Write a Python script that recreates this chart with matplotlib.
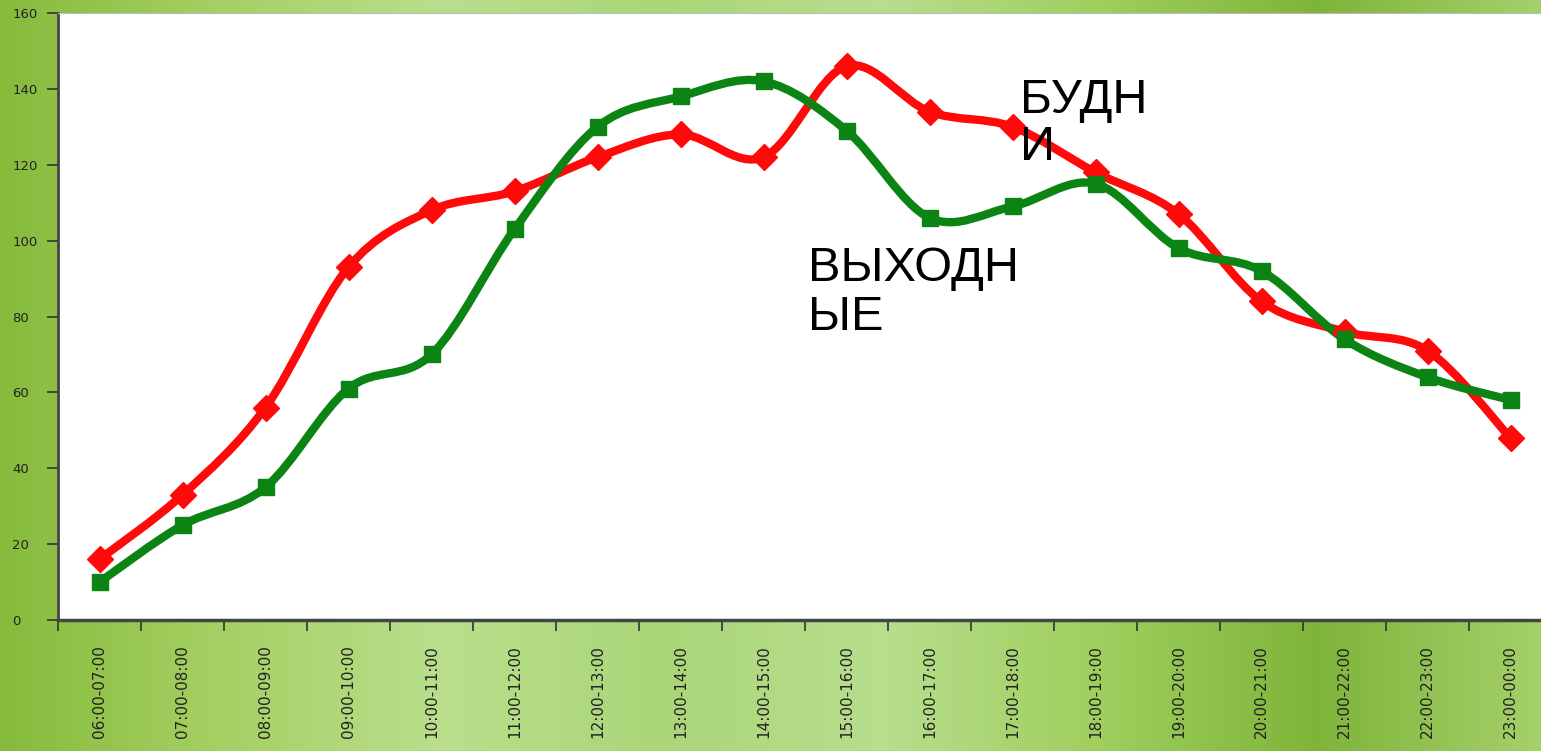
import numpy as np
import matplotlib
matplotlib.use("Agg")
import matplotlib.pyplot as plt
from matplotlib.path import Path
from matplotlib.patches import PathPatch
from matplotlib.colors import LinearSegmentedColormap

hours = ["06:00-07:00", "07:00-08:00", "08:00-09:00", "09:00-10:00",
         "10:00-11:00", "11:00-12:00", "12:00-13:00", "13:00-14:00",
         "14:00-15:00", "15:00-16:00", "16:00-17:00", "17:00-18:00",
         "18:00-19:00", "19:00-20:00", "20:00-21:00", "21:00-22:00",
         "22:00-23:00", "23:00-00:00"]
weekdays = [16, 33, 56, 93, 108, 113, 122, 128, 122, 146,
            134, 130, 118, 107, 84, 76, 71, 48]
weekend = [10, 25, 35, 61, 70, 103, 130, 138, 142, 129,
           106, 109, 115, 98, 92, 74, 64, 58]
yticks = [0, 20, 40, 60, 80, 100, 120, 140, 160]


def smooth_path(xs, ys):
    # cubic bezier through the points (catmull-rom style)
    pts = np.column_stack([xs, ys]).astype(float)
    verts = [pts[0]]
    codes = [Path.MOVETO]
    n = len(pts)
    for i in range(n - 1):
        p0 = pts[i - 1] if i > 0 else pts[i]
        p1 = pts[i]
        p2 = pts[i + 1]
        p3 = pts[i + 2] if i + 2 < n else pts[i + 1]
        verts += [p1 + (p2 - p0) / 6, p2 - (p3 - p1) / 6, p2]
        codes += [Path.CURVE4] * 3
    return Path(verts, codes)


fig = plt.figure(figsize=(15.41, 7.51), dpi=100)

# green background
bg = fig.add_axes([0, 0, 1, 1], zorder=-10)
cmap = LinearSegmentedColormap.from_list(
    "bg", ["#86bb3c", "#a6d064", "#b9df8c", "#aad678", "#b8de8e", "#9fcf5e", "#7fb43a", "#a4d06a"])
grad = np.linspace(0, 1, 400).reshape(1, -1)
bg.imshow(grad, aspect="auto", cmap=cmap, extent=[0, 1, 0, 1])
bg.axis("off")

ax = fig.add_axes([58 / 1541, 1 - 620 / 751, 1494 / 1541, 607 / 751])
ax.set_facecolor("white")

x = np.arange(len(hours))
ax.add_patch(PathPatch(smooth_path(x, weekdays), fill=False, edgecolor="#ff0a0a",
                       lw=6, capstyle="round", joinstyle="round", zorder=3))
ax.plot(x, weekdays, linestyle="none", marker="D", ms=13, color="#ff0a0a", zorder=4)
ax.add_patch(PathPatch(smooth_path(x, weekend), fill=False, edgecolor="#0b8413",
                       lw=6, capstyle="round", joinstyle="round", zorder=3))
ax.plot(x, weekend, linestyle="none", marker="s", ms=12, color="#0b8413", zorder=4)

ax.set_xlim(-0.5, len(hours) - 0.5)
ax.set_ylim(0, 160)
ax.set_yticks(yticks)
ax.set_yticklabels([str(v) for v in yticks], fontsize=9.5, ha="left", color="#222222")
ax.tick_params(axis="y", length=8, width=1.2, pad=25, color="#333333")

ax.set_xticks(x)
ax.set_xticklabels(hours, rotation=90, fontsize=11, color="#222222", va="top")
ax.tick_params(axis="x", which="major", length=0, pad=18)
ax.set_xticks(np.arange(len(hours) + 1) - 0.5, minor=True)
ax.tick_params(axis="x", which="minor", length=8, width=1.2, color="#333333")

for side in ["top", "right"]:
    ax.spines[side].set_color("#bbbbbb")
    ax.spines[side].set_linewidth(0.8)
ax.spines["left"].set_color("#444444")
ax.spines["left"].set_linewidth(2)
ax.spines["bottom"].set_color("#444444")
ax.spines["bottom"].set_linewidth(2.5)

fig.text(1020 / 1541, 1 - 78 / 751, "БУДН\nИ", fontsize=35, family="Liberation Sans",
         ha="left", va="top", linespacing=1.05)
fig.text(808 / 1541, 1 - 246 / 751, "ВЫХОДН\nЫЕ", fontsize=35, family="Liberation Sans",
         ha="left", va="top", linespacing=1.1)

fig.savefig("out.png", dpi=100)
